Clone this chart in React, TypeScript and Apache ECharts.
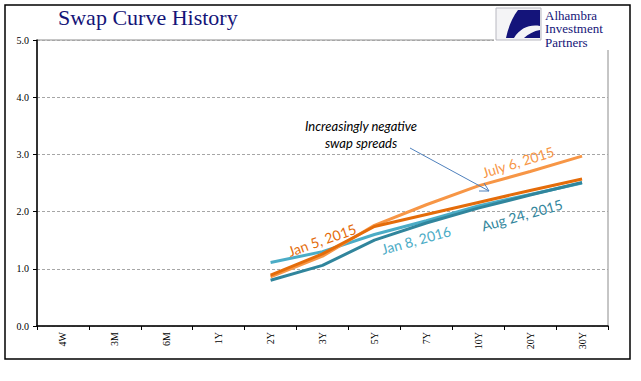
import React, { useEffect, useRef } from "react";
import * as echarts from "echarts";

const categories = ["4W", "3M", "6M", "1Y", "2Y", "3Y", "5Y", "7Y", "10Y", "20Y", "30Y"];
const jan8_2016 = [null, null, null, null, 1.11, 1.30, 1.60, 1.84, 2.10, 2.30, 2.50];
const aug24_2015 = [null, null, null, null, 0.80, 1.06, 1.50, 1.80, 2.06, 2.29, 2.51];
const jul6_2015 = [null, null, null, null, 0.86, 1.22, 1.76, 2.12, 2.45, 2.70, 2.97];
const jan5_2015 = [null, null, null, null, 0.89, 1.26, 1.74, 1.95, 2.16, 2.37, 2.57];
const yTicks = [0, 1, 2, 3, 4, 5];

const C_LBLUE = "#4bacc6";
const C_TEAL = "#31859c";
const C_LORANGE = "#f79646";
const C_ORANGE = "#e46c0a";
const NAVY = "#141478";

echarts.graphic.registerShape(
  "logoSwoosh",
  echarts.graphic.extendPath(
    "M 22 2 L 44 2 L 44 18 C 34 16 24 20 18 30 L 10 30 C 12 20 16 10 22 2 Z M 44 22 L 44 30 L 28 30 C 32 26 38 23 44 22 Z",
    {}
  )
);

export default function App() {
  const ref = useRef<HTMLDivElement>(null);
  useEffect(() => {
    if (!ref.current) return;
    const chart = echarts.init(ref.current, null, { renderer: "svg" });
    const serif = "'Liberation Serif', 'Times New Roman', serif";
    const sans = "Lato, 'Open Sans', sans-serif";
    const lineSeries = (name: string, data: (number | null)[], color: string) => ({
      name,
      type: "line",
      data,
      symbol: "none",
      smooth: false,
      connectNulls: false,
      lineStyle: { color, width: 3 },
      itemStyle: { color },
    });
    const logoLine = (text: string, y: number) => ({
      type: "text",
      x: 545,
      y,
      style: { text, fontFamily: serif, fontSize: 13, fill: NAVY, textVerticalAlign: "middle" },
      z: 96,
    });
    const seriesLabel = (text: string, x: number, y: number, rotation: number, color: string) => ({
      type: "text",
      x,
      y,
      rotation,
      style: { text, fontFamily: sans, fontSize: 14, fill: color, textAlign: "center", textVerticalAlign: "middle" },
      z: 100,
    });
    chart.setOption({
      animation: false,
      backgroundColor: "#fff",
      grid: {
        left: 37,
        right: 33,
        top: 40,
        bottom: 55,
        show: true,
        borderColor: "#8c8c8c",
        borderWidth: 1,
      },
      xAxis: {
        type: "category",
        data: categories,
        boundaryGap: true,
        axisLine: { lineStyle: { color: "#000", width: 1.5 } },
        axisTick: { show: true, length: 4, alignWithLabel: false, lineStyle: { color: "#000" } },
        axisLabel: {
          rotate: 90,
          margin: 6,
          fontFamily: serif,
          fontSize: 10,
          color: "#000",
        },
        splitLine: { show: false },
      },
      yAxis: {
        type: "value",
        min: yTicks[0],
        max: yTicks[yTicks.length - 1],
        interval: 1,
        axisLine: { show: true, lineStyle: { color: "#000", width: 1.5 } },
        axisTick: { show: true, length: 4, inside: false, lineStyle: { color: "#000" } },
        axisLabel: {
          formatter: (v: number) => v.toFixed(1),
          fontFamily: serif,
          fontSize: 10,
          color: "#000",
          margin: 8,
        },
        splitLine: { show: true, lineStyle: { color: "#a6a6a6", type: [3, 2], width: 1 } },
      },
      series: [
        lineSeries("Jan 8, 2016", jan8_2016, C_LBLUE),
        lineSeries("Aug 24, 2015", aug24_2015, C_TEAL),
        lineSeries("July 6, 2015", jul6_2015, C_LORANGE),
        lineSeries("Jan 5, 2015", jan5_2015, C_ORANGE),
      ],
      graphic: [
        {
          type: "rect",
          shape: { x: 5, y: 5, width: 625, height: 354 },
          style: { fill: "none", stroke: "#000", lineWidth: 1.5 },
          silent: true,
          z: 100,
        },
        {
          type: "text",
          x: 58,
          y: 28,
          style: {
            text: "Swap Curve History",
            fontFamily: serif,
            fontSize: 22,
            fill: NAVY,
            textVerticalAlign: "bottom",
          },
          z: 100,
        },
        {
          type: "rect",
          shape: { x: 494, y: 6, width: 135, height: 44 },
          style: { fill: "#fff" },
          z: 90,
        },
        {
          type: "rect",
          shape: { x: 496, y: 8, width: 45, height: 32 },
          style: { fill: "#f4f4f6", stroke: "#b8b8c0", lineWidth: 1 },
          z: 95,
        },
        {
          type: "logoSwoosh",
          x: 496,
          y: 8,
          style: { fill: "#14147a" },
          z: 96,
        },
        logoLine("Alhambra", 15),
        logoLine("Investment", 28.5),
        logoLine("Partners", 42),
        {
          type: "text",
          x: 361,
          y: 134.5,
          style: {
            text: "Increasingly negative\nswap spreads",
            fontFamily: sans,
            fontStyle: "italic",
            fontSize: 13,
            lineHeight: 17,
            fill: "#000",
            textAlign: "center",
            textVerticalAlign: "middle",
          },
          z: 100,
        },
        {
          type: "line",
          shape: { x1: 410, y1: 148, x2: 489, y2: 191 },
          style: { stroke: "#4f81bd", lineWidth: 1 },
          z: 100,
        },
        {
          type: "polyline",
          shape: { points: [[479, 191], [489, 191], [484, 183]] },
          style: { stroke: "#4f81bd", lineWidth: 1, fill: "none" },
          z: 100,
        },
        seriesLabel("Jan 5, 2015", 322, 240, 0.34, C_ORANGE),
        seriesLabel("Jan 8, 2016", 416, 240, 0.27, C_LBLUE),
        seriesLabel("July 6, 2015", 518, 162, 0.3, C_LORANGE),
        seriesLabel("Aug 24, 2015", 522, 215, 0.27, C_TEAL),
      ],
    });
    return () => chart.dispose();
  }, []);
  return (
    <div
      ref={ref}
      style={{ position: "fixed", left: 0, top: 0, width: 641, height: 381, background: "#fff" }}
    />
  );
}
